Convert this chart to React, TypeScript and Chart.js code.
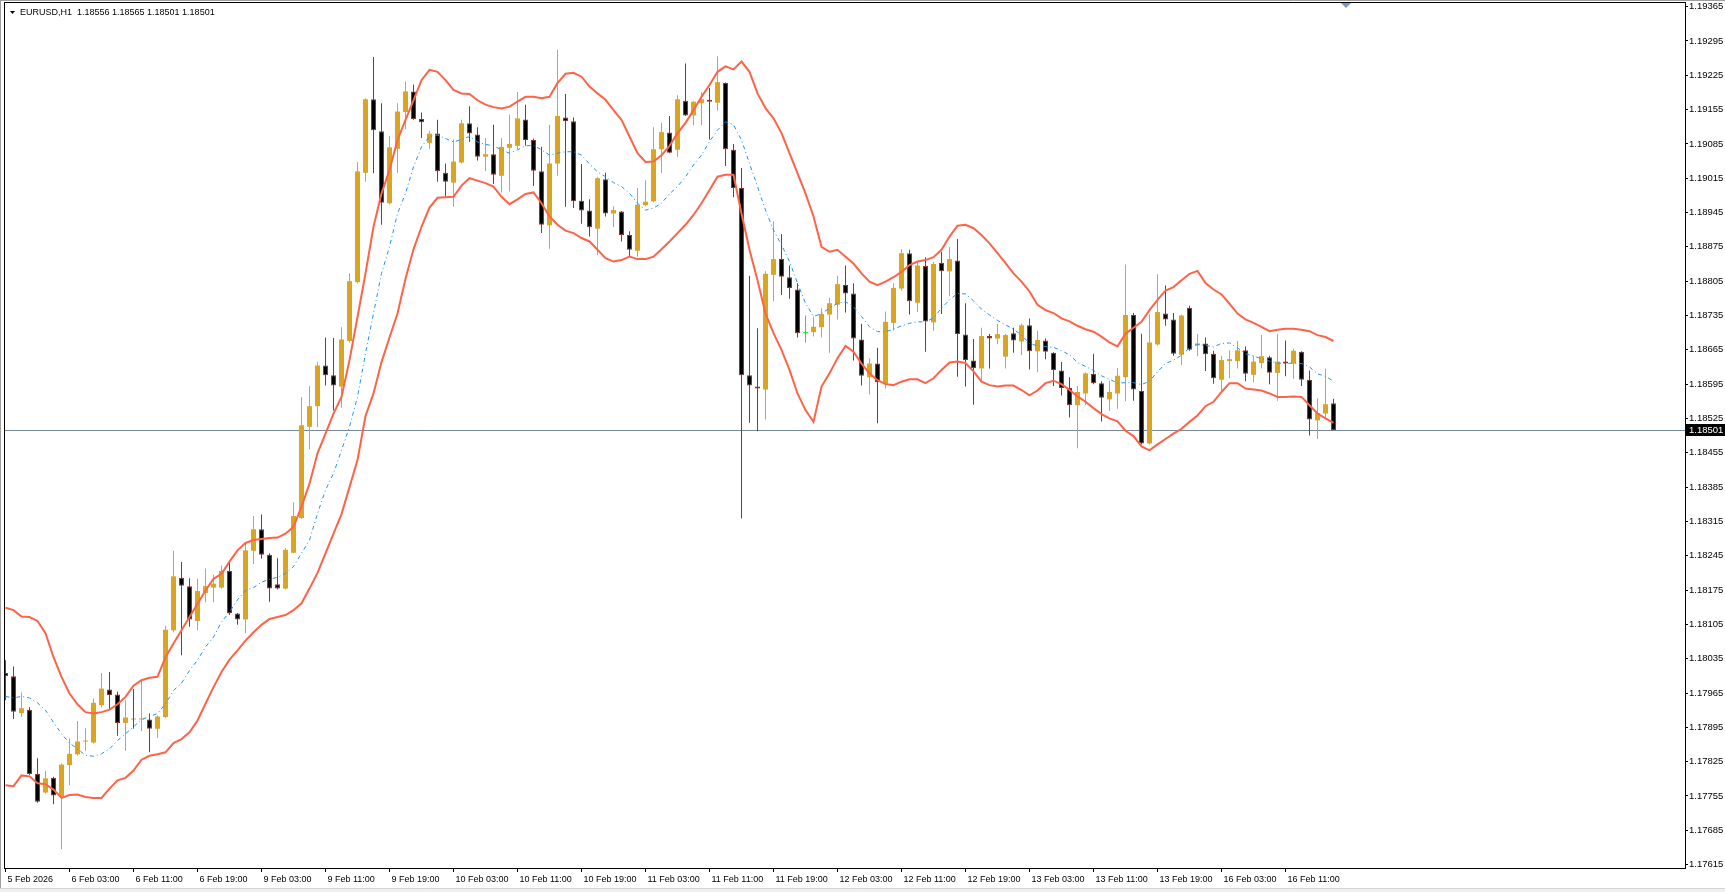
import { useEffect, useRef } from "react";
import { Chart, registerables } from "chart.js";

Chart.register(...registerables);

// ---------------- data ----------------
const titleText = "EURUSD,H1  1.18556 1.18565 1.18501 1.18501";

const xTickLabels = [
  "5 Feb 2026", "6 Feb 03:00", "6 Feb 11:00", "6 Feb 19:00", "9 Feb 03:00", "9 Feb 11:00",
  "9 Feb 19:00", "10 Feb 03:00", "10 Feb 11:00", "10 Feb 19:00", "11 Feb 03:00", "11 Feb 11:00",
  "11 Feb 19:00", "12 Feb 03:00", "12 Feb 11:00", "12 Feb 19:00", "13 Feb 03:00", "13 Feb 11:00",
  "13 Feb 19:00", "16 Feb 03:00", "16 Feb 11:00",
];
const barsPerXTick = 8;

const yTickLabels = [
  "1.19365", "1.19295", "1.19225", "1.19155", "1.19085", "1.19015", "1.18945", "1.18875",
  "1.18805", "1.18735", "1.18665", "1.18595", "1.18525", "1.18455", "1.18385", "1.18315",
  "1.18245", "1.18175", "1.18105", "1.18035", "1.17965", "1.17895", "1.17825", "1.17755",
  "1.17685", "1.17615",
];

const opens = [
  1.18006, 1.17999, 1.17924, 1.17931, 1.17800, 1.17762, 1.17792, 1.17754, 1.17818, 1.17840,
  1.17866, 1.17864, 1.17940, 1.17972, 1.17962, 1.17904, 1.17912, 1.17911, 1.17911, 1.17892,
  1.17916, 1.18093, 1.18200, 1.18183, 1.18112, 1.18169, 1.18180, 1.18180, 1.18214, 1.18127,
  1.18115, 1.18255, 1.18299, 1.18247, 1.18187, 1.18178, 1.18251, 1.18322, 1.18508, 1.18550,
  1.18633, 1.18613, 1.18590, 1.18683, 1.18803, 1.19026, 1.19176, 1.19111, 1.18964, 1.19075,
  1.19150, 1.19192, 1.19136, 1.19087, 1.19106, 1.19026, 1.19006, 1.19047, 1.19127, 1.19104,
  1.19059, 1.19064, 1.19020, 1.19077, 1.19081, 1.19135, 1.19093, 1.19029, 1.18919, 1.19045,
  1.19139, 1.19131, 1.18969, 1.18949, 1.18912, 1.19013, 1.18943, 1.18947, 1.18899, 1.18867,
  1.18960, 1.18968, 1.19074, 1.19108, 1.19073, 1.19173, 1.19143, 1.19168, 1.19175, 1.19169,
  1.19209, 1.19073, 1.18995, 1.18613, 1.18590, 1.18584, 1.18818, 1.18850, 1.18813, 1.18788,
  1.18699, 1.18701, 1.18711, 1.18737, 1.18757, 1.18797, 1.18780, 1.18686, 1.18609, 1.18637,
  1.18595, 1.18720, 1.18790, 1.18862, 1.18761, 1.18836, 1.18721, 1.18842, 1.18825, 1.18847,
  1.18696, 1.18643, 1.18627, 1.18693, 1.18688, 1.18651, 1.18699, 1.18682, 1.18715, 1.18662,
  1.18684, 1.18659, 1.18623, 1.18587, 1.18552, 1.18576, 1.18616, 1.18597, 1.18564, 1.18576,
  1.18609, 1.18736, 1.18581, 1.18474, 1.18676, 1.18739, 1.18727, 1.18655, 1.18751, 1.18674,
  1.18678, 1.18657, 1.18604, 1.18642, 1.18642, 1.18664, 1.18614, 1.18638, 1.18650, 1.18618,
  1.18641, 1.18637, 1.18661, 1.18604, 1.18521, 1.18535, 1.18556,
];

const highs = [
  1.18032, 1.18019, 1.17966, 1.17936, 1.17832, 1.17806, 1.17794, 1.17821, 1.17872, 1.17908,
  1.17893, 1.17954, 1.18006, 1.18008, 1.17968, 1.17950, 1.17973, 1.17992, 1.17923, 1.17919,
  1.18102, 1.18255, 1.18232, 1.18199, 1.18198, 1.18219, 1.18206, 1.18225, 1.18232, 1.18128,
  1.18270, 1.18326, 1.18329, 1.18250, 1.18240, 1.18261, 1.18354, 1.18568, 1.18591, 1.18640,
  1.18690, 1.18689, 1.18711, 1.18821, 1.19048, 1.19178, 1.19262, 1.19168, 1.19101, 1.19168,
  1.19212, 1.19206, 1.19149, 1.19112, 1.19134, 1.19045, 1.19094, 1.19134, 1.19162, 1.19119,
  1.19097, 1.19124, 1.19097, 1.19145, 1.19191, 1.19165, 1.19096, 1.19079, 1.19124, 1.19277,
  1.19187, 1.19139, 1.19044, 1.18972, 1.19017, 1.19026, 1.18958, 1.18948, 1.18907, 1.18995,
  1.19011, 1.19119, 1.19128, 1.19142, 1.19184, 1.19249, 1.19172, 1.19191, 1.19199, 1.19264,
  1.19210, 1.19085, 1.19036, 1.18816, 1.18709, 1.18825, 1.18927, 1.18901, 1.18837, 1.18801,
  1.18735, 1.18733, 1.18750, 1.18771, 1.18816, 1.18837, 1.18801, 1.18718, 1.18648, 1.18669,
  1.18743, 1.18801, 1.18870, 1.18869, 1.18843, 1.18854, 1.18844, 1.18865, 1.18874, 1.18891,
  1.18760, 1.18687, 1.18710, 1.18697, 1.18718, 1.18697, 1.18710, 1.18718, 1.18729, 1.18704,
  1.18688, 1.18660, 1.18640, 1.18609, 1.18591, 1.18619, 1.18657, 1.18601, 1.18602, 1.18628,
  1.18839, 1.18740, 1.18698, 1.18737, 1.18819, 1.18796, 1.18740, 1.18737, 1.18755, 1.18697,
  1.18690, 1.18663, 1.18653, 1.18664, 1.18683, 1.18672, 1.18653, 1.18695, 1.18653, 1.18697,
  1.18684, 1.18667, 1.18662, 1.18623, 1.18566, 1.18627, 1.18565,
];

const lows = [
  1.17950, 1.17912, 1.17916, 1.17798, 1.17741, 1.17760, 1.17738, 1.17647, 1.17777, 1.17837,
  1.17847, 1.17862, 1.17936, 1.17932, 1.17878, 1.17847, 1.17892, 1.17887, 1.17844, 1.17873,
  1.17914, 1.18089, 1.18042, 1.18100, 1.18093, 1.18150, 1.18150, 1.18178, 1.18124, 1.18104,
  1.18087, 1.18228, 1.18239, 1.18151, 1.18176, 1.18176, 1.18250, 1.18320, 1.18462, 1.18507,
  1.18592, 1.18541, 1.18547, 1.18680, 1.18800, 1.19008, 1.19025, 1.18920, 1.18962, 1.19026,
  1.19115, 1.19134, 1.19097, 1.19075, 1.19008, 1.18977, 1.18957, 1.19045, 1.19089, 1.19051,
  1.19029, 1.19003, 1.18986, 1.18988, 1.19074, 1.19081, 1.18999, 1.18903, 1.18871, 1.19020,
  1.18957, 1.18954, 1.18922, 1.18896, 1.18858, 1.18937, 1.18915, 1.18886, 1.18855, 1.18855,
  1.18958, 1.18966, 1.19026, 1.19066, 1.19059, 1.19142, 1.19123, 1.19123, 1.19094, 1.19153,
  1.19040, 1.18976, 1.18321, 1.18516, 1.18499, 1.18523, 1.18764, 1.18777, 1.18769, 1.18690,
  1.18680, 1.18692, 1.18690, 1.18659, 1.18727, 1.18741, 1.18643, 1.18592, 1.18574, 1.18515,
  1.18586, 1.18704, 1.18786, 1.18737, 1.18742, 1.18661, 1.18704, 1.18738, 1.18774, 1.18610,
  1.18590, 1.18553, 1.18601, 1.18627, 1.18677, 1.18627, 1.18659, 1.18654, 1.18625, 1.18619,
  1.18646, 1.18591, 1.18572, 1.18527, 1.18464, 1.18552, 1.18595, 1.18519, 1.18540, 1.18545,
  1.18560, 1.18561, 1.18472, 1.18472, 1.18674, 1.18714, 1.18653, 1.18634, 1.18663, 1.18652,
  1.18622, 1.18596, 1.18582, 1.18607, 1.18627, 1.18601, 1.18599, 1.18627, 1.18595, 1.18561,
  1.18611, 1.18606, 1.18591, 1.18490, 1.18483, 1.18527, 1.18501,
];

const closes = [
  1.17999, 1.17927, 1.17934, 1.17800, 1.17743, 1.17791, 1.17756, 1.17819, 1.17841, 1.17866,
  1.17868, 1.17945, 1.17974, 1.17961, 1.17904, 1.17915, 1.17911, 1.17913, 1.17892, 1.17917,
  1.18094, 1.18203, 1.18184, 1.18115, 1.18173, 1.18183, 1.18188, 1.18214, 1.18128, 1.18115,
  1.18256, 1.18299, 1.18247, 1.18178, 1.18178, 1.18257, 1.18326, 1.18511, 1.18550, 1.18633,
  1.18613, 1.18592, 1.18686, 1.18805, 1.19029, 1.19176, 1.19113, 1.18965, 1.19078, 1.19151,
  1.19192, 1.19136, 1.19129, 1.19106, 1.19029, 1.19008, 1.19049, 1.19127, 1.19106, 1.19059,
  1.19064, 1.19022, 1.19079, 1.19085, 1.19137, 1.19093, 1.19030, 1.18920, 1.19045, 1.19142,
  1.19131, 1.18968, 1.18949, 1.18915, 1.19015, 1.18943, 1.18950, 1.18899, 1.18869, 1.18961,
  1.18967, 1.19074, 1.19109, 1.19067, 1.19176, 1.19143, 1.19171, 1.19176, 1.19171, 1.19211,
  1.19074, 1.18995, 1.18613, 1.18592, 1.18586, 1.18820, 1.18850, 1.18814, 1.18791, 1.18699,
  1.18699, 1.18712, 1.18738, 1.18760, 1.18799, 1.18780, 1.18688, 1.18612, 1.18637, 1.18599,
  1.18722, 1.18791, 1.18862, 1.18764, 1.18837, 1.18723, 1.18840, 1.18825, 1.18850, 1.18697,
  1.18644, 1.18628, 1.18693, 1.18688, 1.18697, 1.18695, 1.18684, 1.18715, 1.18662, 1.18685,
  1.18661, 1.18624, 1.18587, 1.18552, 1.18579, 1.18617, 1.18597, 1.18567, 1.18579, 1.18612,
  1.18736, 1.18584, 1.18474, 1.18680, 1.18742, 1.18727, 1.18657, 1.18735, 1.18665, 1.18678,
  1.18656, 1.18607, 1.18644, 1.18646, 1.18664, 1.18616, 1.18641, 1.18652, 1.18618, 1.18641,
  1.18637, 1.18663, 1.18604, 1.18523, 1.18536, 1.18554, 1.18501,
];

const upperBand = [
  1.18139, 1.18134, 1.18121, 1.18120, 1.18112, 1.18087, 1.18038, 1.17998, 1.17964, 1.17942,
  1.17926, 1.17923, 1.17926, 1.17931, 1.17942, 1.17957, 1.17980, 1.17991, 1.17996, 1.17998,
  1.18038, 1.18066, 1.18093, 1.18120, 1.18147, 1.18174, 1.18198, 1.18208, 1.18233, 1.18256,
  1.18271, 1.18277, 1.18279, 1.18281, 1.18282, 1.18290, 1.18304, 1.18345, 1.18392, 1.18454,
  1.18494, 1.18535, 1.18569, 1.18644, 1.18732, 1.18821, 1.18916, 1.18984, 1.19032, 1.19093,
  1.19134, 1.19174, 1.19215, 1.19236, 1.19232, 1.19215, 1.19195, 1.19188, 1.19187, 1.19174,
  1.19165, 1.19160, 1.19157, 1.19161, 1.19171, 1.19181, 1.19181, 1.19178, 1.19181, 1.19209,
  1.19228, 1.19230, 1.19222, 1.19202, 1.19188, 1.19175, 1.19154, 1.19134, 1.19100, 1.19066,
  1.19048, 1.19049, 1.19062, 1.19081, 1.19107, 1.19128, 1.19154, 1.19181, 1.19205, 1.19232,
  1.19243, 1.19237, 1.19253, 1.19232, 1.19188, 1.19158, 1.19137, 1.19107, 1.19066, 1.19025,
  1.18984, 1.18937, 1.18875, 1.18865, 1.18869, 1.18855, 1.18841, 1.18821, 1.18804, 1.18797,
  1.18804, 1.18813, 1.18824, 1.18838, 1.18845, 1.18848, 1.18854, 1.18869, 1.18896, 1.18918,
  1.18920, 1.18913, 1.18899, 1.18882, 1.18862, 1.18842, 1.18821, 1.18804, 1.18784, 1.18757,
  1.18746, 1.18740, 1.18729, 1.18723, 1.18714, 1.18707, 1.18702, 1.18692, 1.18680, 1.18672,
  1.18698, 1.18710, 1.18722, 1.18746, 1.18767, 1.18786, 1.18793, 1.18807, 1.18820, 1.18826,
  1.18801, 1.18788, 1.18778, 1.18759, 1.18739, 1.18727, 1.18720, 1.18712, 1.18703, 1.18706,
  1.18708, 1.18708, 1.18706, 1.18703, 1.18695, 1.18691, 1.18683,
];

const middleBand = [
  1.17958, 1.17955, 1.17958, 1.17955, 1.17945, 1.17930, 1.17905, 1.17882, 1.17863, 1.17851,
  1.17838, 1.17836, 1.17841, 1.17851, 1.17868, 1.17882, 1.17896, 1.17911, 1.17917, 1.17923,
  1.17943, 1.17970, 1.17985, 1.18011, 1.18032, 1.18059, 1.18079, 1.18110, 1.18130, 1.18155,
  1.18174, 1.18180, 1.18191, 1.18197, 1.18201, 1.18209, 1.18223, 1.18250, 1.18277, 1.18331,
  1.18379, 1.18413, 1.18460, 1.18508, 1.18569, 1.18658, 1.18739, 1.18821, 1.18875, 1.18943,
  1.18984, 1.19038, 1.19079, 1.19100, 1.19103, 1.19096, 1.19089, 1.19094, 1.19100, 1.19089,
  1.19084, 1.19081, 1.19073, 1.19066, 1.19073, 1.19081, 1.19082, 1.19073, 1.19062, 1.19066,
  1.19069, 1.19069, 1.19062, 1.19044, 1.19028, 1.19018, 1.19006, 1.18998, 1.18984, 1.18964,
  1.18950, 1.18954, 1.18964, 1.18983, 1.18998, 1.19018, 1.19042, 1.19062, 1.19090, 1.19113,
  1.19130, 1.19124, 1.19093, 1.19045, 1.18998, 1.18950, 1.18909, 1.18879, 1.18845, 1.18801,
  1.18760, 1.18733, 1.18739, 1.18750, 1.18760, 1.18763, 1.18753, 1.18733, 1.18712, 1.18702,
  1.18702, 1.18707, 1.18714, 1.18719, 1.18722, 1.18722, 1.18730, 1.18750, 1.18767, 1.18780,
  1.18779, 1.18765, 1.18748, 1.18736, 1.18725, 1.18716, 1.18707, 1.18695, 1.18678, 1.18673,
  1.18672, 1.18670, 1.18663, 1.18655, 1.18639, 1.18631, 1.18623, 1.18612, 1.18605, 1.18597,
  1.18598, 1.18598, 1.18594, 1.18601, 1.18620, 1.18637, 1.18644, 1.18654, 1.18669, 1.18676,
  1.18674, 1.18671, 1.18678, 1.18679, 1.18669, 1.18657, 1.18652, 1.18647, 1.18642, 1.18638,
  1.18637, 1.18638, 1.18637, 1.18630, 1.18616, 1.18611, 1.18601,
];

const lowerBand = [
  1.17777, 1.17775, 1.17797, 1.17795, 1.17781, 1.17779, 1.17768, 1.17751, 1.17757, 1.17758,
  1.17753, 1.17751, 1.17751, 1.17770, 1.17787, 1.17792, 1.17807, 1.17829, 1.17837, 1.17840,
  1.17844, 1.17863, 1.17871, 1.17885, 1.17909, 1.17943, 1.17977, 1.18008, 1.18033, 1.18052,
  1.18072, 1.18089, 1.18104, 1.18116, 1.18120, 1.18124, 1.18134, 1.18148, 1.18178, 1.18210,
  1.18250, 1.18290, 1.18330, 1.18385, 1.18440, 1.18530, 1.18576, 1.18640, 1.18690, 1.18739,
  1.18810, 1.18870, 1.18916, 1.18955, 1.18975, 1.18976, 1.18977, 1.19000, 1.19015, 1.19010,
  1.19005, 1.18998, 1.18977, 1.18962, 1.18972, 1.18983, 1.18986, 1.18964, 1.18937, 1.18920,
  1.18908, 1.18903, 1.18893, 1.18886, 1.18869, 1.18852, 1.18845, 1.18848, 1.18855, 1.18850,
  1.18850, 1.18855, 1.18870, 1.18886, 1.18903, 1.18920, 1.18940, 1.18964, 1.18991, 1.19018,
  1.19022, 1.19022, 1.18943, 1.18869, 1.18807, 1.18739, 1.18699, 1.18665, 1.18624, 1.18576,
  1.18542, 1.18518, 1.18590, 1.18617, 1.18648, 1.18673, 1.18661, 1.18637, 1.18617, 1.18603,
  1.18595, 1.18593, 1.18600, 1.18605, 1.18605, 1.18597, 1.18607, 1.18624, 1.18639, 1.18641,
  1.18638, 1.18621, 1.18600, 1.18593, 1.18590, 1.18592, 1.18592, 1.18583, 1.18572, 1.18582,
  1.18597, 1.18602, 1.18595, 1.18583, 1.18570, 1.18559, 1.18546, 1.18534, 1.18525, 1.18519,
  1.18500, 1.18489, 1.18468, 1.18460, 1.18472, 1.18483, 1.18494, 1.18504, 1.18518, 1.18531,
  1.18550, 1.18559, 1.18579, 1.18597, 1.18597, 1.18586, 1.18584, 1.18582, 1.18576, 1.18569,
  1.18569, 1.18570, 1.18569, 1.18552, 1.18535, 1.18525, 1.18516,
];

// ---------------- styling ----------------
const W = 1725;
const H = 892;
const FONT = "'Liberation Sans', Arial, sans-serif";
const BULL = "#DAA520";
const BEAR_LINE = "#A52A2A";
const BEAR_FILL = "#000000";
const DOJI = "#00FF00";
const BAND = "#FF6347";
const MID = "#1E90FF";
const PRICE_LINE = "#778899";

// axis ranges (px per price unit ~ 49030, bar spacing 8px)
const Y_MAX = 1.193744;
const Y_MIN = 1.176081;
const X_MIN = -0.1875;
const X_MAX = 209.9375;

export default function App() {
  const ref = useRef<HTMLCanvasElement | null>(null);

  useEffect(() => {
    document.body.style.margin = "0";
    document.body.style.overflow = "hidden";
    const canvas = ref.current;
    if (!canvas) return;

    const idx = closes.map((_, i) => i);
    const dir = closes.map((c, i) => (c > opens[i] ? 1 : c < opens[i] ? -1 : 0));
    const lineColor = dir.map((d) => (d > 0 ? BULL : d < 0 ? BEAR_LINE : DOJI));
    const fillColor = dir.map((d) => (d > 0 ? BULL : d < 0 ? BEAR_FILL : DOJI));
    const borderW = dir.map((d) => (d < 0 ? 1 : 0));
    const lastPrice = closes[closes.length - 1];

    const decor = {
      id: "mt4decor",
      beforeDatasetsDraw(chart: any) {
        const { ctx, chartArea, scales } = chart;
        const y = Math.round(scales.y.getPixelForValue(lastPrice)) + 0.5;
        ctx.save();
        ctx.strokeStyle = PRICE_LINE;
        ctx.lineWidth = 1;
        ctx.beginPath();
        ctx.moveTo(chartArea.left, y);
        ctx.lineTo(chartArea.right, y);
        ctx.stroke();
        ctx.restore();
      },
      afterDraw(chart: any) {
        const { ctx, chartArea, scales } = chart;
        ctx.save();
        // window edges
        ctx.strokeStyle = "#A0A0A0";
        ctx.lineWidth = 1;
        ctx.beginPath();
        ctx.moveTo(0.5, 0);
        ctx.lineTo(0.5, 888);
        ctx.moveTo(0, 0.5);
        ctx.lineTo(W, 0.5);
        ctx.stroke();
        ctx.fillStyle = "#F0F0F0";
        ctx.fillRect(0, 889, W, 3);
        ctx.strokeStyle = "#D4D4D4";
        ctx.beginPath();
        ctx.moveTo(0, 888.5);
        ctx.lineTo(W, 888.5);
        ctx.stroke();
        // plot frame
        ctx.strokeStyle = "#000000";
        ctx.strokeRect(
          chartArea.left + 0.5,
          chartArea.top + 0.5,
          chartArea.right - chartArea.left,
          chartArea.bottom - chartArea.top
        );
        // title
        ctx.fillStyle = "#000000";
        ctx.beginPath();
        ctx.moveTo(10, 11);
        ctx.lineTo(15, 11);
        ctx.lineTo(12.5, 14);
        ctx.closePath();
        ctx.fill();
        ctx.font = `9px ${FONT}`;
        ctx.textBaseline = "middle";
        ctx.textAlign = "left";
        ctx.fillText(titleText, 20, 13);
        // chart shift marker
        ctx.fillStyle = "#7F98B2";
        ctx.beginPath();
        ctx.moveTo(1341, 3);
        ctx.lineTo(1351, 3);
        ctx.lineTo(1346, 8);
        ctx.closePath();
        ctx.fill();
        // current price box
        const py = Math.round(scales.y.getPixelForValue(lastPrice));
        ctx.fillStyle = "#000000";
        ctx.fillRect(chartArea.right + 1, py - 6, W - chartArea.right - 1, 12);
        ctx.fillStyle = "#FFFFFF";
        ctx.font = `9.5px ${FONT}`;
        ctx.fillText(lastPrice.toFixed(5), chartArea.right + 4, py + 0.5);
        ctx.restore();
      },
    };

    const chart = new Chart(canvas, {
      type: "bar",
      data: {
        datasets: [
          {
            type: "line",
            label: "Upper band",
            data: upperBand.map((v, i) => ({ x: i, y: v })),
            borderColor: BAND,
            borderWidth: 2,
            pointRadius: 0,
            fill: false,
            tension: 0,
          },
          {
            type: "line",
            label: "Lower band",
            data: lowerBand.map((v, i) => ({ x: i, y: v })),
            borderColor: BAND,
            borderWidth: 2,
            pointRadius: 0,
            fill: false,
            tension: 0,
          },
          {
            type: "line",
            label: "Middle band",
            data: middleBand.map((v, i) => ({ x: i, y: v })),
            borderColor: MID,
            borderWidth: 1,
            borderDash: [4, 3, 1, 3],
            pointRadius: 0,
            fill: false,
            tension: 0,
          },
          {
            type: "bar",
            label: "Body",
            data: idx.map((i) => ({ x: i, y: [opens[i], closes[i]] })),
            backgroundColor: fillColor,
            borderColor: lineColor,
            borderWidth: borderW,
            borderSkipped: false,
            barThickness: 5,
            grouped: false,
            minBarLength: 1,
            inflateAmount: 0,
          } as any,
          {
            type: "bar",
            label: "Wick",
            data: idx.map((i) => ({ x: i, y: [lows[i], highs[i]] })),
            backgroundColor: lineColor,
            borderWidth: 0,
            barThickness: 1,
            grouped: false,
            inflateAmount: 0,
          } as any,
        ],
      },
      options: {
        animation: false,
        responsive: false,
        maintainAspectRatio: false,
        events: [],
        layout: { padding: { left: 4, top: 2, right: 0, bottom: 0 } },
        plugins: {
          legend: { display: false },
          tooltip: { enabled: false },
          title: { display: false },
        },
        scales: {
          x: {
            type: "linear",
            position: "bottom",
            min: X_MIN,
            max: X_MAX,
            offset: false,
            bounds: "data",
            grid: {
              drawOnChartArea: false,
              drawTicks: true,
              tickLength: 4,
              color: "#000000",
              offset: false,
            },
            border: { display: false },
            ticks: {
              autoSkip: false,
              maxRotation: 0,
              minRotation: 0,
              align: "start",
              padding: 2,
              labelOffset: 2,
              color: "#000000",
              font: { family: FONT, size: 9 },
              callback: (_v: any, i: number) => xTickLabels[i],
            },
            afterBuildTicks: (s: any) => {
              s.ticks = xTickLabels.map((_, k) => ({ value: k * barsPerXTick }));
            },
            afterFit: (s: any) => {
              s.height = 24;
              s.paddingLeft = 0;
              s.paddingRight = 0;
            },
          },
          y: {
            type: "linear",
            position: "right",
            min: Y_MIN,
            max: Y_MAX,
            bounds: "data",
            grid: {
              drawOnChartArea: false,
              drawTicks: true,
              tickLength: 3,
              color: "#000000",
            },
            border: { display: false },
            ticks: {
              autoSkip: false,
              padding: 1,
              color: "#000000",
              font: { family: FONT, size: 9.5 },
              callback: (_v: any, i: number) => yTickLabels[i],
            },
            afterBuildTicks: (s: any) => {
              s.ticks = yTickLabels.map((l) => ({ value: parseFloat(l) }));
            },
            afterFit: (s: any) => {
              s.width = 40;
              s.paddingTop = 0;
              s.paddingBottom = 0;
            },
          },
        },
      } as any,
      plugins: [decor],
    });

    return () => chart.destroy();
  }, []);

  return (
    <div style={{ width: W, height: H, background: "#FFFFFF" }}>
      <canvas ref={ref} width={W} height={H} style={{ display: "block" }} />
    </div>
  );
}
